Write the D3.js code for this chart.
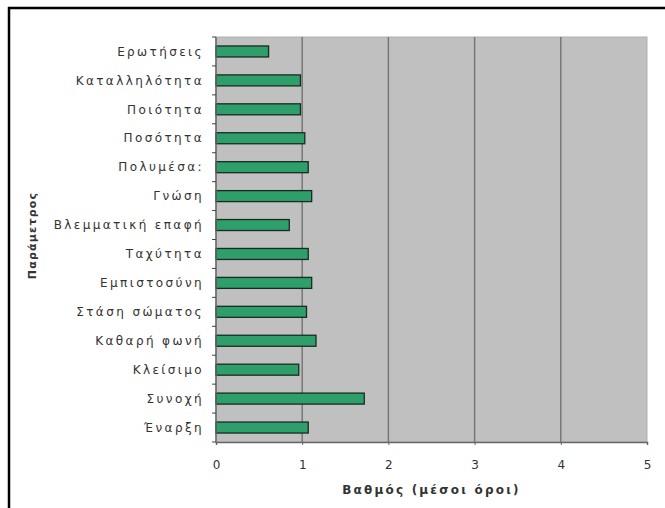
<!DOCTYPE html>
<html>
<head>
<meta charset="utf-8">
<script src="https://cdn.jsdelivr.net/npm/d3@7"></script>
<style>
  html, body { margin: 0; padding: 0; background: #fff; overflow: hidden; }
  svg { display: block; }
  text { font-family: "DejaVu Sans", "Liberation Sans", Arial, sans-serif; fill: #333; }
</style>
</head>
<body>
<div id="chart"></div>
<script>
// parameters, top to bottom
var categories = ["Ερωτήσεις", "Καταλληλότητα", "Ποιότητα", "Ποσότητα", "Πολυμέσα:", "Γνώση",
  "Βλεμματική επαφή", "Ταχύτητα", "Εμπιστοσύνη", "Στάση σώματος", "Καθαρή φωνή",
  "Κλείσιμο", "Συνοχή", "Έναρξη"];
var scores = [0.61, 0.98, 0.98, 1.03, 1.07, 1.11, 0.85, 1.07, 1.11, 1.05, 1.16, 0.96, 1.72, 1.07];
var xTicks = [0, 1, 2, 3, 4, 5];

var width = 665, height = 508;
var margin = {top: 37, right: 18, bottom: 66, left: 216};
var innerWidth = width - margin.left - margin.right;
var innerHeight = height - margin.top - margin.bottom;

var svg = d3.select('#chart').append('svg')
  .attr('width', width)
  .attr('height', height);

// outer frame: only its top and left edges fall inside the picture
svg.append('line')
  .attr('x1', 8).attr('x2', width).attr('y1', 8).attr('y2', 8)
  .attr('stroke', '#000').attr('stroke-width', 2.5);
svg.append('line')
  .attr('x1', 9).attr('x2', 9).attr('y1', 7).attr('y2', height)
  .attr('stroke', '#000').attr('stroke-width', 2.5);

var x = d3.scaleLinear().domain([0, 5]).range([0, innerWidth]);
var y = d3.scaleBand().domain(categories).range([0, innerHeight]).paddingInner(0.62).paddingOuter(0.31);

var g = svg.append('g').attr('transform', `translate(${margin.left},${margin.top})`);

g.append('rect')
  .attr('width', innerWidth).attr('height', innerHeight)
  .attr('fill', '#c0c0c0')
  .attr('stroke', '#b0b0b0');

// grid lines
g.selectAll('.grid').data(xTicks.slice(1, -1)).join('line')
  .attr('x1', d => x(d)).attr('x2', d => x(d))
  .attr('y1', 0).attr('y2', innerHeight)
  .attr('stroke', '#777').attr('stroke-width', 1.5);

// bars
g.selectAll('.bar').data(scores).join('rect')
  .attr('x', x(0))
  .attr('y', (d, i) => y(categories[i]))
  .attr('width', d => x(d))
  .attr('height', y.bandwidth())
  .attr('fill', '#2e9e6a')
  .attr('stroke', '#1a2a22')
  .attr('stroke-width', 1.3);

// x axis
var xAxis = g.append('g')
  .attr('transform', `translate(0,${innerHeight})`)
  .call(d3.axisBottom(x).tickValues(xTicks).tickFormat(d3.format('d')).tickSize(3).tickPadding(15));
xAxis.select('.domain').attr('stroke', '#666').attr('stroke-width', 1.5);
xAxis.selectAll('.tick line').attr('stroke', '#666');
xAxis.selectAll('text').attr('font-size', 12)
  .style('font-family', '"DejaVu Sans", "Liberation Sans", Arial, sans-serif').attr('fill', '#333');

// y axis: labels at band centres, ticks at band boundaries
var yAxis = g.append('g');
yAxis.append('line')
  .attr('x1', 0).attr('x2', 0).attr('y1', 0).attr('y2', innerHeight)
  .attr('stroke', '#666').attr('stroke-width', 1.5);
var step = y.step();
yAxis.selectAll('.yt').data(d3.range(categories.length + 1)).join('line')
  .attr('x1', -4).attr('x2', 0)
  .attr('y1', d => d * step).attr('y2', d => d * step)
  .attr('stroke', '#444');
yAxis.selectAll('.lbl').data(categories).join('text')
  .attr('x', -12)
  .attr('y', d => y(d) + y.bandwidth() / 2)
  .attr('dy', '0.35em')
  .attr('text-anchor', 'end')
  .attr('font-size', 12)
  .attr('letter-spacing', 2.4)
  .text(d => d);

// axis titles
svg.append('text')
  .attr('x', margin.left + innerWidth / 2)
  .attr('y', 494)
  .attr('text-anchor', 'middle')
  .attr('font-size', 12)
  .attr('font-weight', 'bold')
  .attr('letter-spacing', 2.2)
  .text('Βαθμός (μέσοι όροι)');

svg.append('text')
  .attr('transform', `translate(36,${margin.top + innerHeight / 2 - 4}) rotate(-90)`)
  .attr('text-anchor', 'middle')
  .attr('font-size', 11)
  .attr('font-weight', 'bold')
  .attr('letter-spacing', 1.2)
  .text('Παράμετρος');
</script>
</body>
</html>
